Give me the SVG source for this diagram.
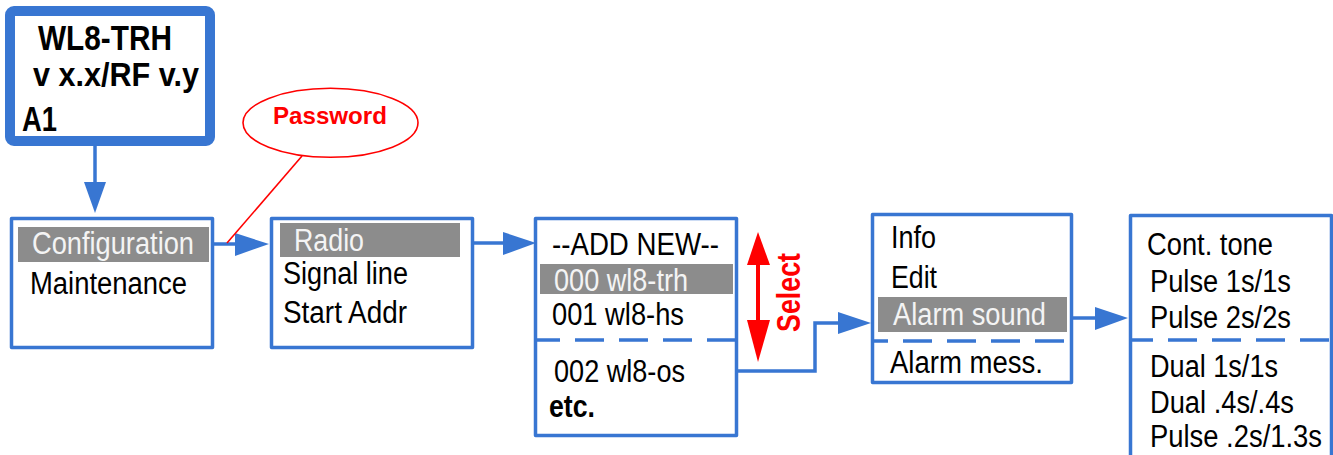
<svg xmlns="http://www.w3.org/2000/svg" width="1333" height="455" viewBox="0 0 1333 455">
<style>
.box{fill:#fff;stroke:#3876d2;stroke-width:3.5;stroke-linejoin:round}
.dash{stroke:#3876d2;stroke-width:3.5;stroke-dasharray:29 15;fill:none}
.hl{fill:#8c8c8c}
.t{font-family:"Liberation Sans",Arial,sans-serif;font-size:31px;fill:#000}
.w{fill:#f4f4f4}
.b{font-weight:bold}
.con{stroke:#3876d2;stroke-width:3.5;fill:none}
.head{fill:#3876d2}
.red{fill:#ff0000}
</style>
<rect x="0" y="0" width="1333" height="455" fill="#fff"/>
<g id="node-device">
<rect x="10" y="11" width="200" height="130" rx="4" fill="#fff" stroke="#3876d2" stroke-width="10"/>
<text class="t b" x="38" y="50" style="font-size:35px" textLength="134" lengthAdjust="spacingAndGlyphs">WL8-TRH</text>
<text class="t b" x="33" y="86" style="font-size:33px" textLength="166" lengthAdjust="spacingAndGlyphs">v x.x/RF v.y</text>
<text class="t b" x="22" y="131" style="font-size:35px" textLength="35" lengthAdjust="spacingAndGlyphs">A1</text>
</g>
<g id="node-password">
<ellipse cx="330.5" cy="122.8" rx="87.5" ry="34.5" fill="#fff" stroke="#ff0000" stroke-width="1.6"/>
<text class="t b red" x="273" y="124" style="font-size:24px" textLength="114" lengthAdjust="spacingAndGlyphs">Password</text>
</g>
<g id="node-main">
<rect class="box" x="11.5" y="218.5" width="201" height="129"/>
<rect class="hl" x="18" y="227" width="191" height="35"/>
<text class="t w" x="32" y="254" textLength="162" lengthAdjust="spacingAndGlyphs">Configuration</text>
<text class="t" x="30" y="294" textLength="157" lengthAdjust="spacingAndGlyphs">Maintenance</text>
</g>
<g id="node-config">
<rect class="box" x="271.5" y="218.5" width="201" height="129"/>
<rect class="hl" x="280" y="223" width="180" height="34"/>
<text class="t w" x="294" y="251" textLength="70" lengthAdjust="spacingAndGlyphs">Radio</text>
<text class="t" x="283" y="284" textLength="125" lengthAdjust="spacingAndGlyphs">Signal line</text>
<text class="t" x="283" y="323" textLength="124" lengthAdjust="spacingAndGlyphs">Start Addr</text>
</g>
<g id="node-list">
<rect class="box" x="535.5" y="218.5" width="201" height="217"/>
<rect class="hl" x="540" y="264" width="193" height="30"/>
<line class="dash" x1="536" y1="340" x2="736" y2="340" stroke-dashoffset="5"/>
<text class="t" x="552" y="255" textLength="167" lengthAdjust="spacingAndGlyphs">--ADD NEW--</text>
<text class="t w" x="554" y="291" textLength="134" lengthAdjust="spacingAndGlyphs">000 wl8-trh</text>
<text class="t" x="552" y="325" textLength="132" lengthAdjust="spacingAndGlyphs">001 wl8-hs</text>
<text class="t" x="554" y="382" textLength="131" lengthAdjust="spacingAndGlyphs">002 wl8-os</text>
<text class="t b" x="549" y="417" textLength="46" lengthAdjust="spacingAndGlyphs">etc.</text>
</g>
<g id="node-select">
<line x1="758" y1="262" x2="758" y2="322" stroke="#ff0000" stroke-width="4"/>
<polygon class="red" points="747,265 770,265 758,232"/>
<polygon class="red" points="747,320 770,320 758,362"/>
<text class="t b red" transform="translate(800,332) rotate(-90)" style="font-size:33px" textLength="79" lengthAdjust="spacingAndGlyphs">Select</text>
</g>
<g id="node-device-menu">
<rect class="box" x="872.5" y="214.5" width="199" height="168"/>
<rect class="hl" x="878" y="297" width="189" height="35"/>
<line class="dash" x1="873" y1="341" x2="1071" y2="341" stroke-dashoffset="14"/>
<text class="t" x="891" y="248" textLength="45" lengthAdjust="spacingAndGlyphs">Info</text>
<text class="t" x="891" y="288" textLength="46" lengthAdjust="spacingAndGlyphs">Edit</text>
<text class="t w" x="893" y="325" textLength="153" lengthAdjust="spacingAndGlyphs">Alarm sound</text>
<text class="t" x="890" y="373" textLength="153" lengthAdjust="spacingAndGlyphs">Alarm mess.</text>
</g>
<g id="node-sounds">
<rect class="box" x="1130.5" y="215.5" width="201" height="260"/>
<line class="dash" x1="1131" y1="340" x2="1331" y2="340" stroke-dashoffset="7"/>
<text class="t" x="1147" y="255" textLength="126" lengthAdjust="spacingAndGlyphs">Cont. tone</text>
<text class="t" x="1150" y="292" textLength="141" lengthAdjust="spacingAndGlyphs">Pulse 1s/1s</text>
<text class="t" x="1150" y="328" textLength="141" lengthAdjust="spacingAndGlyphs">Pulse 2s/2s</text>
<text class="t" x="1150" y="377" textLength="128" lengthAdjust="spacingAndGlyphs">Dual 1s/1s</text>
<text class="t" x="1150" y="413" textLength="144" lengthAdjust="spacingAndGlyphs">Dual .4s/.4s</text>
<text class="t" x="1150" y="447" textLength="172" lengthAdjust="spacingAndGlyphs">Pulse .2s/1.3s</text>
</g>
<g id="connectors">
<line class="con" x1="95" y1="146" x2="95" y2="184"/>
<polygon class="head" points="84,182 106,182 95,213"/>
<line class="con" x1="213" y1="244" x2="237" y2="244"/>
<polygon class="head" points="235,233 235,256 269,244"/>
<line x1="227" y1="243" x2="302" y2="156" stroke="#ff0000" stroke-width="1.6"/>
<line class="con" x1="474" y1="243" x2="505" y2="243"/>
<polygon class="head" points="503,232 503,255 536,243"/>
<polyline class="con" points="738,371 815,371 815,323 840,323"/>
<polygon class="head" points="838,312 838,334 871,323"/>
<line class="con" x1="1073" y1="318" x2="1097" y2="318"/>
<polygon class="head" points="1095,307 1095,330 1128,318"/>
</g>
</svg>
